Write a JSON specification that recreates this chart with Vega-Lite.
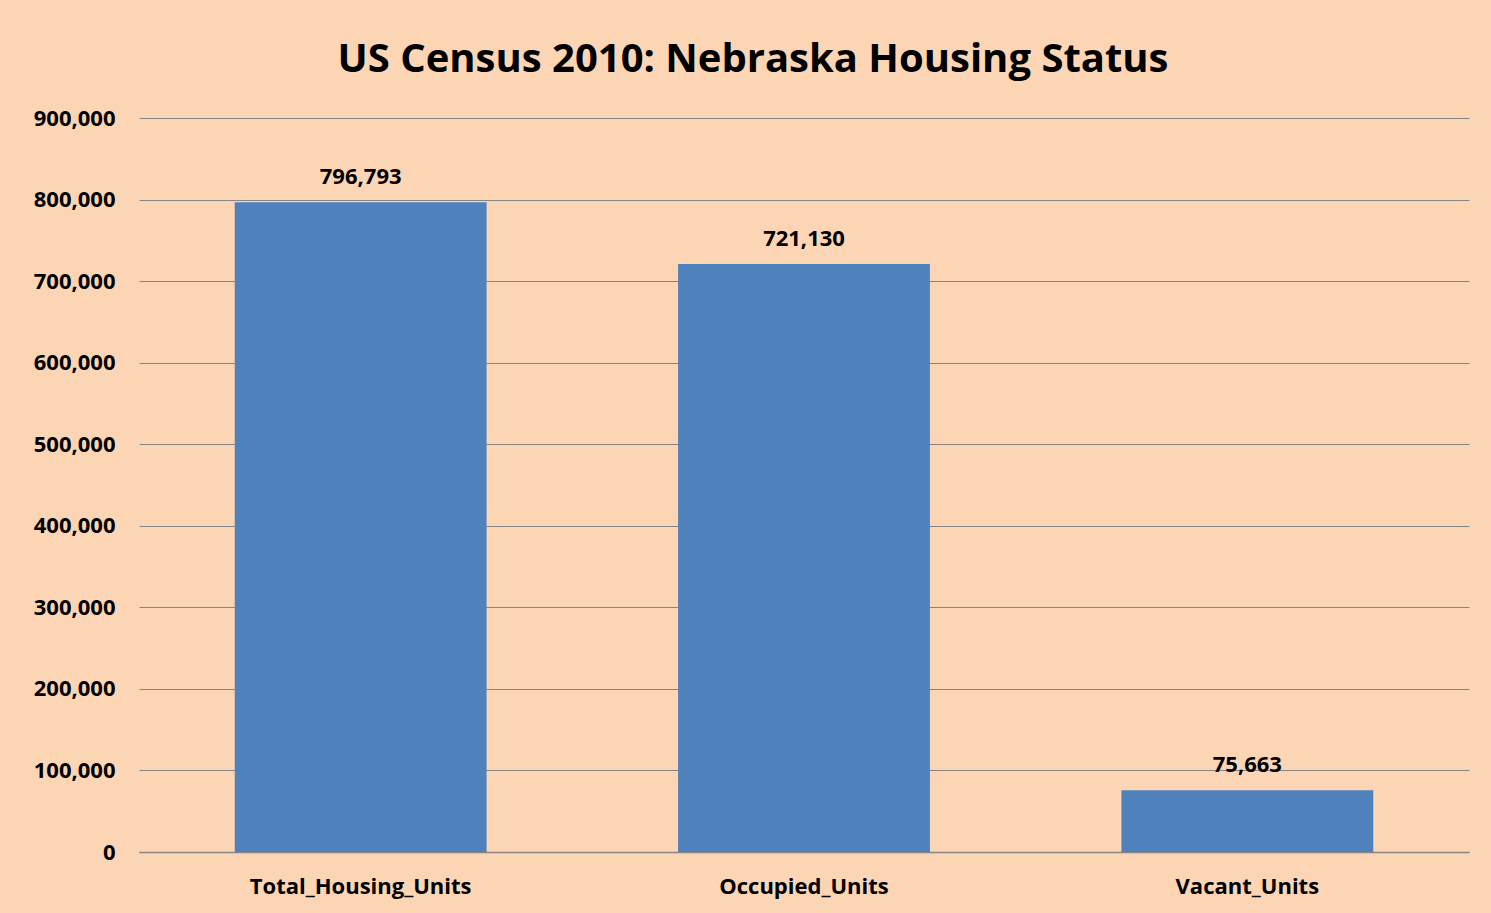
{
  "$schema": "https://vega.github.io/schema/vega-lite/v6.json",
  "width": 1330,
  "height": 734,
  "autosize": {"type": "none"},
  "padding": {"left": 139, "top": 118, "right": 22, "bottom": 61},
  "background": "#FCD5B5",
  "title": {
    "text": "US Census 2010: Nebraska Housing Status",
    "font": "Open Sans",
    "fontSize": 40,
    "fontWeight": "bold",
    "color": "#000000",
    "anchor": "middle",
    "dx": -51,
    "offset": 27
  },
  "data": {
    "values": [
      {"category": "Total_Housing_Units", "units": 796793},
      {"category": "Occupied_Units", "units": 721130},
      {"category": "Vacant_Units", "units": 75663}
    ]
  },
  "encoding": {
    "x": {
      "field": "category",
      "type": "nominal",
      "sort": null,
      "scale": {"paddingInner": 0.432, "paddingOuter": 0.216},
      "axis": {
        "title": null,
        "labelAngle": 0,
        "labelLimit": 0,
        "labelFont": "Open Sans",
        "labelFontSize": 22,
        "labelFontWeight": "bold",
        "labelColor": "#000000",
        "labelPadding": 24,
        "ticks": false,
        "domainColor": "#868686",
        "domainWidth": 1.5
      }
    },
    "y": {
      "field": "units",
      "type": "quantitative",
      "scale": {"domain": [0, 900000], "nice": false},
      "axis": {
        "title": null,
        "values": [0, 100000, 200000, 300000, 400000, 500000, 600000, 700000, 800000, 900000],
        "format": ",d",
        "labelFont": "Open Sans",
        "labelFontSize": 22,
        "labelFontWeight": "bold",
        "labelColor": "#000000",
        "labelPadding": 24,
        "ticks": false,
        "domain": false,
        "gridColor": "#868686",
        "gridWidth": 1.2
      }
    }
  },
  "layer": [
    {"mark": {"type": "bar", "color": "#4F81BD"}},
    {
      "mark": {
        "type": "text",
        "baseline": "bottom",
        "dy": -13,
        "font": "Open Sans",
        "fontSize": 22,
        "fontWeight": "bold",
        "color": "#000000"
      },
      "encoding": {"text": {"field": "units", "type": "quantitative", "format": ",d"}}
    }
  ],
  "config": {"view": {"stroke": null}}
}
